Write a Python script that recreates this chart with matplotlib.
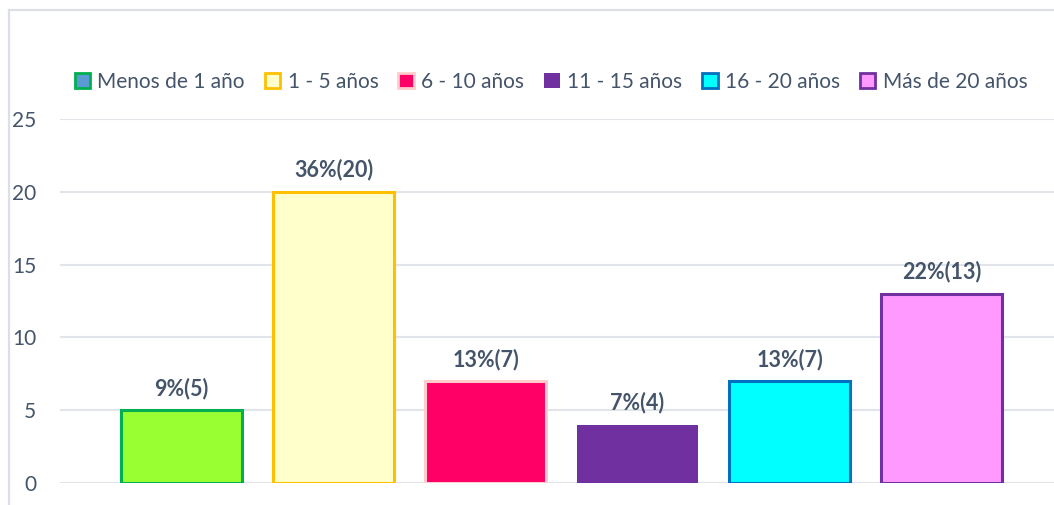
import matplotlib
matplotlib.use("Agg")
import matplotlib.pyplot as plt
from matplotlib.patches import Patch
from matplotlib.lines import Line2D

categorias = ["Menos de 1 año", "1 - 5 años", "6 - 10 años",
              "11 - 15 años", "16 - 20 años", "Más de 20 años"]
valores = [5, 20, 7, 4, 7, 13]
etiquetas = ["9%(5)", "36%(20)", "13%(7)", "7%(4)", "13%(7)", "22%(13)"]
rellenos = ["#99FF33", "#FFFFCC", "#FF0066", "#7030A0", "#00FFFF", "#FF99FF"]
bordes = ["#00B050", "#FFC000", "#FFCCCC", "#7030A0", "#0070C0", "#7030A0"]
# en la leyenda la primera serie sale con relleno azul
rellenos_leyenda = ["#5B9BD5"] + rellenos[1:]

TXT = "#44546A"
GRID = "#E1E5EA"
plt.rcParams["font.family"] = ["Lato", "DejaVu Sans"]

W, H = 1054, 505
fig = plt.figure(figsize=(W / 100, H / 100), dpi=100)
ax = fig.add_axes([60 / W, (H - 483) / H, (W - 60) / W, (483 - 119) / H])

xs = list(range(len(valores)))
for i, v in enumerate(valores):
    lw = 0 if i == 3 else 2.2
    ax.bar(xs[i], v, width=0.80, color=rellenos[i], edgecolor=bordes[i],
           linewidth=lw, zorder=3)
    ax.annotate(etiquetas[i], (xs[i], v), xytext=(0, 8), textcoords="offset points",
                ha="center", va="bottom", fontsize=15.5, fontweight="bold", color=TXT)

ax.set_xlim(-0.80, 5.74)
ax.set_ylim(0, 25)
ax.set_yticks([0, 5, 10, 15, 20, 25])
ax.set_xticks([])
ax.tick_params(axis="y", length=0, pad=17, labelsize=15, labelcolor=TXT)
ax.grid(axis="y", color=GRID, linewidth=1.5, zorder=0)
for s in ax.spines.values():
    s.set_visible(False)

handles = [Patch(facecolor=rellenos_leyenda[i], edgecolor=bordes[i],
                 linewidth=0 if i == 3 else 2.0) for i in range(len(categorias))]
fig.legend(handles, categorias, loc="center", bbox_to_anchor=(551 / W, 1 - 82 / H),
           ncol=6, frameon=False, fontsize=15, labelcolor=TXT,
           handlelength=0.75, handleheight=0.75, handletextpad=0.35,
           columnspacing=0.95, borderaxespad=0)

# borde del área del gráfico (recortado a la derecha y abajo)
fig.add_artist(Line2D([8.5 / W, 8.5 / W], [0, 1 - 10 / H], color="#DCE0E6", linewidth=1.6))
fig.add_artist(Line2D([8.5 / W, 1], [1 - 10 / H, 1 - 10 / H], color="#DCE0E6", linewidth=1.6))

fig.savefig("out.png", dpi=100)
